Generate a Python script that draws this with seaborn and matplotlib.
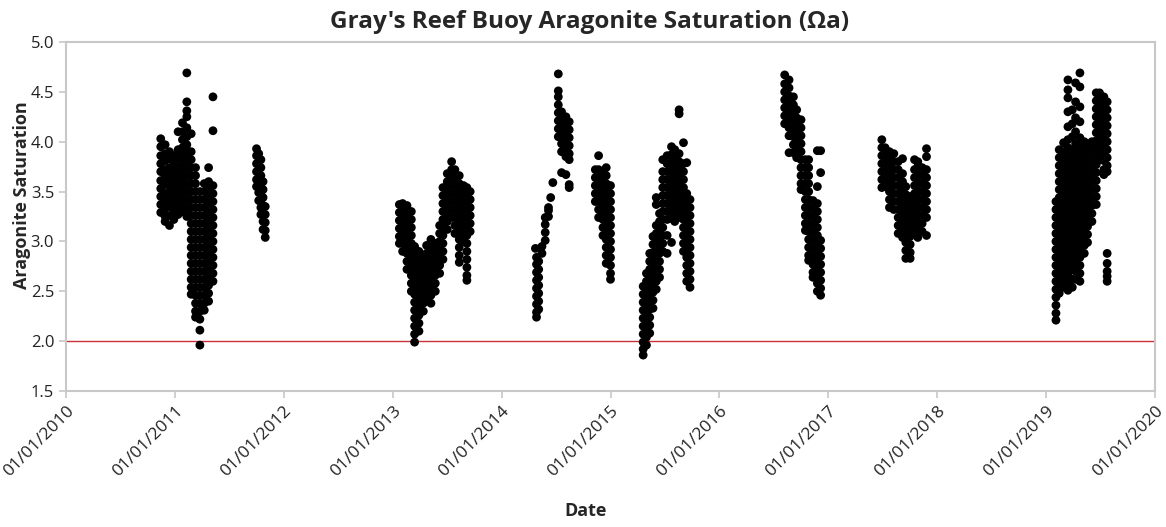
#!/usr/bin/env python3

##########################################################################
#
#  Gray's Reef buoy aragonite saturation (Omega_a) time series
#  scatter of all deployments, 2010 - 2020, with 2.0 reference line
#
##########################################################################

import matplotlib
matplotlib.use('Agg')

import numpy as np
import pandas as pd
import seaborn as sns
import matplotlib.pyplot as plt
import matplotlib.dates as mdates

################################################
## values
## each deployment: sample times (decimal year) and the Omega_a values
## observed around that time

dep1_t = [2010.87, 2010.91, 2010.95, 2010.99, 2011.03, 2011.07, 2011.11,
          2011.15, 2011.19, 2011.23, 2011.27, 2011.31, 2011.35]
dep1_v = [
  [4.03, 3.95, 3.86, 3.78, 3.70, 3.61, 3.53, 3.45, 3.37, 3.29],
  [3.97, 3.88, 3.81, 3.72, 3.64, 3.57, 3.48, 3.40, 3.33, 3.25, 3.20],
  [3.90, 3.83, 3.74, 3.66, 3.58, 3.50, 3.42, 3.35, 3.26, 3.16],
  [3.86, 3.78, 3.70, 3.63, 3.54, 3.46, 3.38, 3.30, 3.22],
  [4.10, 3.92, 3.84, 3.75, 3.67, 3.59, 3.51, 3.43, 3.35, 3.27],
  [4.19, 4.10, 4.02, 3.94, 3.86, 3.78, 3.70, 3.62, 3.54, 3.46, 3.38, 3.30],
  [4.69, 4.40, 4.31, 4.25, 4.14, 4.05, 3.97, 3.89, 3.81, 3.73, 3.65, 3.57,
   3.49, 3.41, 3.33, 3.25],
  [4.08, 3.90, 3.82, 3.74, 3.66, 3.58, 3.50, 3.42, 3.34, 3.26, 3.18, 3.10,
   3.02, 2.94, 2.86, 2.78, 2.70, 2.62, 2.54, 2.47],
  [3.74, 3.66, 3.58, 3.50, 3.42, 3.34, 3.26, 3.18, 3.10, 3.02, 2.94, 2.86,
   2.78, 2.70, 2.62, 2.54, 2.46, 2.38, 2.30, 2.24],
  [3.50, 3.42, 3.34, 3.26, 3.18, 3.10, 3.02, 2.94, 2.86, 2.78, 2.70, 2.62,
   2.54, 2.46, 2.38, 2.30, 2.22, 2.11, 1.96],
  [3.58, 3.50, 3.42, 3.34, 3.26, 3.18, 3.10, 3.02, 2.94, 2.86, 2.78, 2.70,
   2.62, 2.54, 2.46, 2.38, 2.31],
  [3.74, 3.60, 3.52, 3.44, 3.36, 3.28, 3.20, 3.12, 3.04, 2.96, 2.88, 2.80,
   2.72, 2.64, 2.56, 2.48, 2.40],
  [4.45, 4.11, 3.56, 3.48, 3.40, 3.32, 3.24, 3.16, 3.08, 3.00, 2.92, 2.84,
   2.76, 2.68, 2.60],
]

dep2_t = [2011.75, 2011.77, 2011.79, 2011.81, 2011.83]
dep2_v = [
  [3.93, 3.86, 3.78, 3.70, 3.62, 3.55],
  [3.88, 3.80, 3.72, 3.64, 3.57, 3.49, 3.41],
  [3.82, 3.74, 3.66, 3.58, 3.50, 3.42, 3.34, 3.27],
  [3.60, 3.52, 3.44, 3.36, 3.28, 3.20, 3.12],
  [3.35, 3.27, 3.19, 3.11, 3.04],
]

dep3_t = [2013.06, 2013.09, 2013.13, 2013.17, 2013.20, 2013.24, 2013.28,
          2013.31, 2013.35, 2013.39, 2013.43, 2013.46, 2013.50, 2013.54,
          2013.57, 2013.61, 2013.65, 2013.68, 2013.71]
dep3_v = [
  [3.37, 3.29, 3.21, 3.13, 3.05, 2.98],
  [3.38, 3.30, 3.22, 3.14, 3.06, 2.98, 2.90],
  [3.36, 3.28, 3.20, 3.12, 3.04, 2.96, 2.88, 2.80, 2.72],
  [3.30, 3.22, 3.14, 3.06, 2.98, 2.90, 2.82, 2.74, 2.66, 2.58, 2.50],
  [2.95, 2.87, 2.79, 2.71, 2.63, 2.55, 2.47, 2.39, 2.31, 2.23, 2.15, 2.07,
   1.99],
  [2.90, 2.82, 2.74, 2.66, 2.58, 2.50, 2.42, 2.34, 2.26, 2.18, 2.10],
  [2.86, 2.78, 2.70, 2.62, 2.54, 2.46, 2.38, 2.30],
  [2.96, 2.88, 2.80, 2.72, 2.64, 2.56, 2.48, 2.40],
  [3.02, 2.94, 2.86, 2.78, 2.70, 2.62, 2.54, 2.46, 2.38],
  [2.98, 2.90, 2.82, 2.74, 2.66, 2.58, 2.50],
  [3.16, 3.08, 3.00, 2.92, 2.84, 2.76, 2.68],
  [3.54, 3.46, 3.38, 3.30, 3.22, 3.14, 3.06, 2.98, 2.90, 2.82],
  [3.68, 3.60, 3.52, 3.44, 3.36, 3.28, 3.20, 3.12],
  [3.80, 3.72, 3.64, 3.56, 3.48, 3.40, 3.32, 3.24],
  [3.72, 3.64, 3.56, 3.48, 3.40, 3.32, 3.24, 3.16, 3.08],
  [3.66, 3.58, 3.50, 3.42, 3.34, 3.26, 3.18, 3.10, 3.02, 2.94, 2.86, 2.79],
  [3.56, 3.48, 3.40, 3.32, 3.24, 3.16, 3.08, 3.00],
  [3.54, 3.46, 3.38, 3.30, 3.22, 3.14, 3.06, 2.98, 2.90, 2.82, 2.74, 2.66,
   2.61],
  [3.50, 3.42, 3.34, 3.26, 3.18, 3.10],
]

dep4_t = [2014.31, 2014.32, 2014.34, 2014.37, 2014.40, 2014.43, 2014.45,
          2014.47, 2014.52, 2014.55, 2014.59, 2014.62]
dep4_v = [
  [2.93],
  [2.84, 2.77, 2.69, 2.61, 2.53, 2.45, 2.37, 2.29, 2.24],
  [2.80, 2.72, 2.64, 2.56, 2.48, 2.40, 2.32],
  [2.88, 2.95],
  [3.01, 3.09, 3.17, 3.24],
  [3.25, 3.31, 3.34],
  [3.44],
  [3.59],
  [4.68, 4.51, 4.45, 4.37, 4.29, 4.21, 4.13, 4.05],
  [4.30, 4.22, 4.14, 4.06, 3.98, 3.90, 3.69],
  [4.25, 4.17, 4.09, 4.01, 3.93, 3.85, 3.67],
  [4.20, 4.12, 4.04, 3.96, 3.88, 3.82, 3.57, 3.54],
]

dep5_t = [2014.86, 2014.89, 2014.93, 2014.96, 2015.00]
dep5_v = [
  [3.72, 3.64, 3.56, 3.48, 3.40],
  [3.86, 3.72, 3.64, 3.56, 3.48, 3.40, 3.32, 3.24],
  [3.70, 3.62, 3.54, 3.46, 3.38, 3.30, 3.22, 3.14, 3.06],
  [3.74, 3.66, 3.58, 3.50, 3.42, 3.34, 3.26, 3.18, 3.10, 3.02, 2.94, 2.86,
   2.78],
  [3.56, 3.48, 3.40, 3.32, 3.24, 3.16, 3.08, 3.00, 2.92, 2.84, 2.76, 2.68,
   2.62],
]

dep6_t = [2015.30, 2015.33, 2015.36, 2015.39, 2015.42, 2015.45, 2015.48,
          2015.52, 2015.56, 2015.59, 2015.63, 2015.67, 2015.70, 2015.73]
dep6_v = [
  [2.55, 2.47, 2.39, 2.31, 2.23, 2.15, 2.07, 1.99, 1.92, 1.86],
  [2.68, 2.60, 2.52, 2.44, 2.36, 2.28, 2.20, 2.12, 2.04, 1.96],
  [2.88, 2.80, 2.72, 2.64, 2.56, 2.48, 2.40, 2.32, 2.24, 2.16, 2.08],
  [3.05, 2.97, 2.89, 2.81, 2.73, 2.65, 2.57, 2.49, 2.41, 2.33],
  [3.44, 3.37, 3.16, 3.08, 3.00, 2.92, 2.84, 2.76, 2.68, 2.60, 2.52],
  [3.28, 3.20, 3.12, 3.04, 2.96, 2.88, 2.80, 2.72, 2.64],
  [3.82, 3.70, 3.62, 3.54, 3.46, 3.38, 3.30, 3.22, 3.14, 3.06, 2.98, 2.90],
  [3.86, 3.78, 3.70, 3.62, 3.54, 3.46, 3.38, 3.30, 3.22, 3.06, 2.88],
  [3.95, 3.87, 3.79, 3.71, 3.63, 3.55, 3.47, 3.39, 3.31, 3.23, 2.99],
  [3.92, 3.84, 3.76, 3.68, 3.60, 3.52, 3.44, 3.36, 3.28, 3.20],
  [4.32, 4.28, 3.88, 3.80, 3.72, 3.64, 3.56, 3.48, 3.40, 3.32, 3.24],
  [3.99, 3.78, 3.70, 3.62, 3.54, 3.46, 3.38, 3.30, 3.22, 3.14, 3.06, 2.98,
   2.90],
  [3.79, 3.48, 3.40, 3.32, 3.24, 3.16, 3.08, 3.00, 2.92, 2.84, 2.76, 2.68,
   2.60],
  [3.42, 3.34, 3.26, 3.18, 3.10, 3.02, 2.94, 2.86, 2.78, 2.70, 2.62, 2.54],
]

dep7_t = [2016.60, 2016.64, 2016.68, 2016.71, 2016.75, 2016.79, 2016.82,
          2016.86, 2016.90, 2016.93]
dep7_v = [
  [4.67, 4.58, 4.50, 4.42, 4.34, 4.26, 4.18],
  [4.62, 4.54, 4.46, 4.38, 4.30, 4.22, 4.14, 4.06, 3.89],
  [4.45, 4.37, 4.29, 4.21, 4.13, 4.05, 3.97, 3.89],
  [4.32, 4.24, 4.16, 4.08, 4.00, 3.92, 3.84],
  [4.22, 4.14, 4.06, 3.98, 3.90, 3.82, 3.74, 3.66, 3.58, 3.52],
  [3.82, 3.74, 3.66, 3.58, 3.50, 3.42, 3.34, 3.26, 3.18, 3.11],
  [3.82, 3.74, 3.66, 3.58, 3.50, 3.42, 3.34, 3.26, 3.18, 3.10, 3.02, 2.94,
   2.86, 2.81],
  [3.41, 3.33, 3.25, 3.17, 3.09, 3.01, 2.93, 2.85, 2.77, 2.69, 2.64],
  [3.91, 3.55, 3.38, 3.30, 3.22, 3.14, 3.06, 2.98, 2.90, 2.82, 2.74, 2.66,
   2.58, 2.50],
  [3.91, 3.69, 3.01, 2.93, 2.85, 2.77, 2.69, 2.61, 2.53, 2.46],
]

dep8_t = [2017.49, 2017.52, 2017.56, 2017.60, 2017.64, 2017.68, 2017.71,
          2017.75, 2017.79, 2017.82, 2017.86, 2017.90]
dep8_v = [
  [4.02, 3.94, 3.86, 3.78, 3.70, 3.62, 3.54],
  [3.94, 3.86, 3.78, 3.70, 3.62, 3.55],
  [3.90, 3.82, 3.74, 3.66, 3.58, 3.50, 3.42, 3.34],
  [3.88, 3.80, 3.72, 3.64, 3.56, 3.48, 3.40, 3.32],
  [3.80, 3.72, 3.64, 3.56, 3.48, 3.40, 3.32, 3.24, 3.16, 3.08],
  [3.83, 3.68, 3.60, 3.52, 3.44, 3.36, 3.28, 3.20, 3.12, 3.04],
  [3.55, 3.47, 3.39, 3.31, 3.23, 3.15, 3.07, 2.99, 2.91, 2.83],
  [3.45, 3.37, 3.29, 3.21, 3.13, 3.05, 2.97, 2.89, 2.83],
  [3.82, 3.72, 3.64, 3.56, 3.48, 3.40, 3.32, 3.24, 3.16, 3.08],
  [3.80, 3.75, 3.67, 3.59, 3.51, 3.43, 3.35, 3.27, 3.19, 3.11, 3.04],
  [3.74, 3.66, 3.58, 3.50, 3.42, 3.34, 3.26, 3.18, 3.10],
  [3.93, 3.85, 3.72, 3.64, 3.56, 3.48, 3.40, 3.32, 3.24, 3.06],
]

dep9_t = [2019.09, 2019.12, 2019.16, 2019.20, 2019.24, 2019.27, 2019.31,
          2019.35, 2019.38, 2019.42, 2019.46, 2019.49, 2019.53, 2019.56]
dep9_v = [
  [3.40, 3.32, 3.24, 3.16, 3.08, 3.00, 2.92, 2.84, 2.76, 2.68, 2.60, 2.52,
   2.44, 2.36, 2.28, 2.21],
  [3.92, 3.84, 3.76, 3.68, 3.60, 3.52, 3.44, 3.36, 3.28, 3.20, 3.12, 3.04,
   2.96, 2.88, 2.80, 2.72, 2.64, 2.56, 2.48],
  [3.99, 3.90, 3.82, 3.74, 3.66, 3.58, 3.50, 3.42, 3.34, 3.26, 3.18, 3.10,
   3.02, 2.94, 2.86, 2.78, 2.70, 2.62, 2.54],
  [4.62, 4.52, 4.44, 4.30, 4.15, 4.02, 3.94, 3.86, 3.78, 3.70, 3.62, 3.54,
   3.46, 3.38, 3.30, 3.22, 3.14, 3.06, 2.98, 2.90, 2.82, 2.74, 2.66, 2.58,
   2.51],
  [4.32, 4.18, 4.05, 3.92, 3.84, 3.76, 3.68, 3.60, 3.52, 3.44, 3.36, 3.28,
   3.20, 3.12, 3.04, 2.96, 2.88, 2.80, 2.72, 2.62, 2.54],
  [4.59, 4.40, 4.24, 4.10, 3.98, 3.90, 3.82, 3.74, 3.66, 3.58, 3.50, 3.42,
   3.34, 3.26, 3.18, 3.10, 3.02, 2.94, 2.86, 2.78, 2.70, 2.62],
  [4.69, 4.55, 4.35, 4.20, 4.04, 3.96, 3.88, 3.80, 3.72, 3.64, 3.56, 3.48,
   3.40, 3.32, 3.24, 3.16, 3.08, 3.00, 2.92, 2.84, 2.76, 2.68, 2.60],
  [4.00, 3.92, 3.84, 3.76, 3.68, 3.60, 3.52, 3.44, 3.36, 3.28, 3.20, 3.12,
   3.04, 2.96, 2.88],
  [3.95, 3.87, 3.79, 3.71, 3.63, 3.55, 3.47, 3.39, 3.31, 3.23, 3.15, 3.07,
   2.99],
  [4.00, 3.92, 3.84, 3.76, 3.68, 3.60, 3.52, 3.44, 3.36, 3.28, 3.20],
  [4.49, 4.41, 4.33, 4.25, 4.17, 4.09, 4.01, 3.93, 3.85, 3.77, 3.69, 3.61,
   3.53, 3.45, 3.37],
  [4.49, 4.41, 4.33, 4.25, 4.17, 4.09, 4.01, 3.93, 3.85, 3.82],
  [4.45, 4.37, 4.29, 4.21, 4.13, 4.05, 3.97, 3.89, 3.81, 3.72, 3.67],
  [4.40, 4.32, 4.24, 4.16, 4.08, 4.00, 3.92, 3.84, 3.76, 3.70, 2.88, 2.78,
   2.70, 2.65, 2.60],
]

deployments = [(dep1_t, dep1_v), (dep2_t, dep2_v), (dep3_t, dep3_v),
               (dep4_t, dep4_v), (dep5_t, dep5_v), (dep6_t, dep6_v),
               (dep7_t, dep7_v), (dep8_t, dep8_v), (dep9_t, dep9_v)]

y_ticks   = [1.5, 2.0, 2.5, 3.0, 3.5, 4.0, 4.5, 5.0]
threshold = 2.0

title  = "Gray's Reef Buoy Aragonite Saturation (Ωa)"
x_name = 'Date'
y_name = 'Aragonite Saturation'


################################################
def decimal_year_to_date(yr):
  yr   = np.asarray(yr, dtype=float)
  base = pd.to_datetime(np.floor(yr).astype(int).astype(str), format='%Y')
  return base + pd.to_timedelta((yr - np.floor(yr)) * 365.25, unit='D')


def build_frame():
  rows_t, rows_v = [], []
  for times, values in deployments:
    for t, vals in zip(times, values):
      rows_t.extend([t] * len(vals))
      rows_v.extend(vals)
  df = pd.DataFrame({'year': rows_t, 'omega': rows_v})
  df['date'] = decimal_year_to_date(df['year'])
  return df


################################################
def main():
  df = build_frame()

  sns.set_style('white')
  plt.rcParams['font.family'] = ['Open Sans', 'DejaVu Sans']

  fig = plt.figure(figsize=(11.66, 5.27), dpi=100)
  ax  = fig.add_axes([66/1166, 136/527, 1089/1166, 349/527])

  ## reference line at Omega_a = 2.0
  ax.axhline(threshold, color='#c8303a', lw=1.0, zorder=1)

  sns.scatterplot(data=df, x='date', y='omega', color='black', s=40,
                  linewidth=0, edgecolor='none', ax=ax, zorder=3)

  ## axes cosmetics
  ax.set_xlim(pd.Timestamp('2010-01-01'), pd.Timestamp('2020-01-01'))
  ax.set_ylim(1.5, 5.0)
  ax.set_yticks(y_ticks)
  ax.set_yticklabels(['{:.1f}'.format(v) for v in y_ticks])
  ax.xaxis.set_major_locator(mdates.YearLocator())
  ax.xaxis.set_major_formatter(mdates.DateFormatter('%m/%d/%Y'))

  for sp in ax.spines.values():
    sp.set_color('#c8c8c8')
    sp.set_linewidth(1.5)

  ax.tick_params(axis='x', labelsize=12.5)
  ax.tick_params(axis='y', labelsize=12)
  ax.tick_params(axis='both', which='major', direction='out', length=5,
                 width=1.2, color='#c8c8c8', labelcolor='#222222',
                 left=True, bottom=True)
  for lab in ax.get_xticklabels():
    lab.set_rotation(45)
    lab.set_ha('right')
    lab.set_rotation_mode('anchor')

  ax.set_xlabel('')
  ax.set_ylabel('')

  ## titles placed like in the original export
  fig.text(0.506, 0.958, title, ha='center', va='center',
           fontsize=17.5, fontweight='bold')
  fig.text(0.019, 0.63, y_name, ha='center', va='center', rotation=90,
           fontsize=13, fontweight='bold')
  fig.text(0.502, 0.030, x_name, ha='center', va='center',
           fontsize=13, fontweight='bold')

  fig.savefig('out.png', dpi=100, facecolor='white')
  plt.close(fig)


######################################################################
if __name__ == '__main__':
  main()
